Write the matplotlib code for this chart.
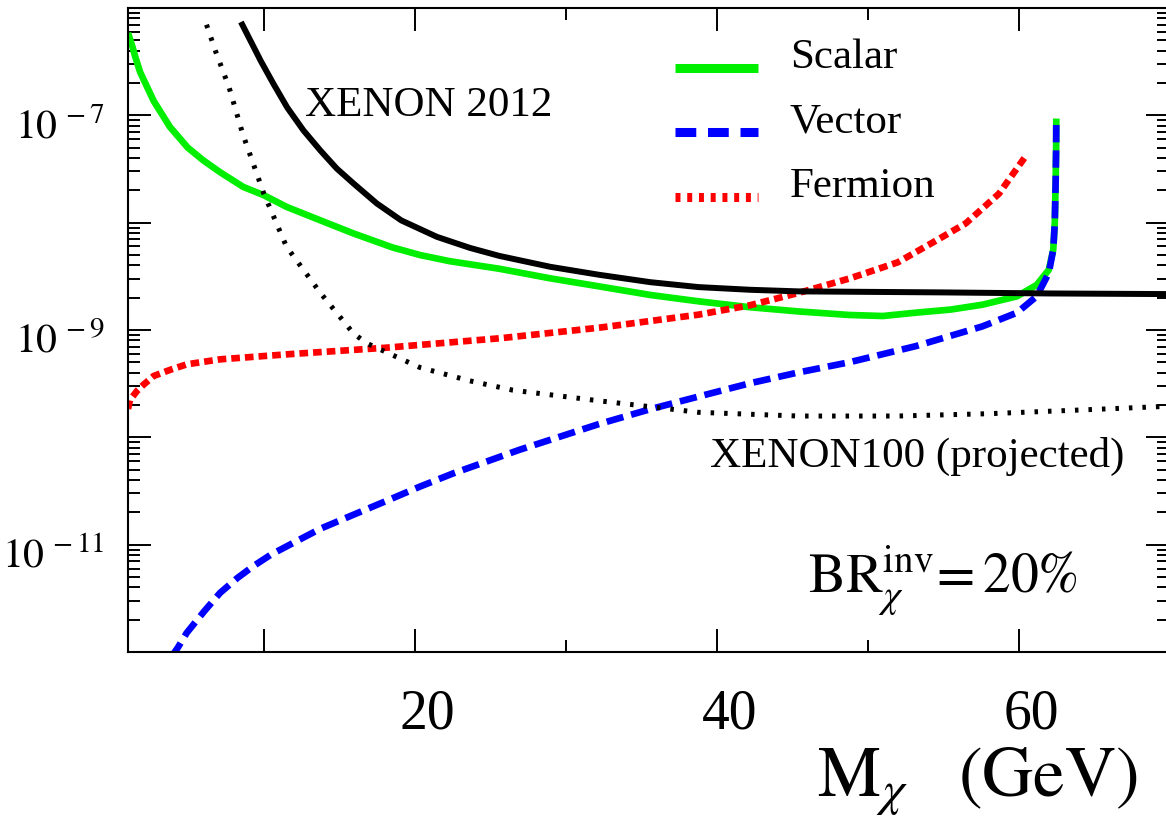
import matplotlib
matplotlib.use("Agg")
import matplotlib.pyplot as plt
import matplotlib.transforms as mtransforms
import numpy as np
from matplotlib.ticker import LogLocator, FuncFormatter, FixedLocator, NullFormatter

plt.rcParams['font.family'] = ['Liberation Serif', 'DejaVu Serif']
plt.rcParams['mathtext.fontset'] = 'stix'

# dark matter mass (GeV) and the limit curves
m_scalar = [1.0, 1.3, 1.5, 1.8, 2.7, 3.78, 4.95, 5.99, 7.1, 8.64, 10, 11.52, 13.75, 15.93,
            18.5, 20.35, 22.33, 25.6, 28.97, 32.2, 35.6, 38.8, 42.2, 45.4, 48.8, 51, 53.2,
            55.5, 57.6, 59.9, 61.2, 62.0, 62.3, 62.4, 62.46, 62.49, 62.5]
scalar = [5.85e-7, 4.32e-7, 3.43e-7, 2.53e-7, 1.36e-7, 7.78e-8, 5.01e-8, 3.80e-8, 2.95e-8,
          2.15e-8, 1.80e-8, 1.40e-8, 1.05e-8, 7.94e-9, 5.89e-9, 4.99e-9, 4.37e-9, 3.72e-9,
          3.03e-9, 2.55e-9, 2.12e-9, 1.85e-9, 1.63e-9, 1.49e-9, 1.38e-9, 1.35e-9, 1.45e-9,
          1.55e-9, 1.72e-9, 2.06e-9, 2.63e-9, 3.63e-9, 5.62e-9, 1.0e-8, 2.51e-8, 5.01e-8,
          9.33e-8]

m_vector = [3.85, 4.3, 4.89, 6.05, 7.1, 8.25, 9.3, 10.45, 11.95, 13.75, 15.93, 18.15, 20.35,
            22.55, 24.77, 26.95, 28.97, 32.2, 35.6, 38.8, 42.2, 45.4, 48.8, 53.2, 57.6, 59.9,
            61.2, 62.0, 62.3, 62.4, 62.46, 62.49, 62.5]
vector = [8.9e-13, 1.10e-12, 1.51e-12, 2.40e-12, 3.56e-12, 4.90e-12, 6.31e-12, 8.05e-12,
          1.04e-11, 1.41e-11, 1.90e-11, 2.57e-11, 3.48e-11, 4.62e-11, 5.96e-11, 7.67e-11,
          9.48e-11, 1.33e-10, 1.83e-10, 2.40e-10, 3.19e-10, 4.02e-10, 5.01e-10, 7.08e-10,
          1.08e-9, 1.45e-9, 2.06e-9, 3.39e-9, 5.62e-9, 1.0e-8, 2.51e-8, 5.01e-8, 9.33e-8]

m_fermion = [1.0, 1.13, 1.6, 2.01, 2.7, 3.78, 4.9, 7.1, 11.5, 18.1, 25.7, 32.2, 38.8, 42.2,
             45.4, 48.8, 52.0, 54.5, 56.5, 58.7, 60.5]
fermion = [1.84e-10, 2.23e-10, 2.71e-10, 3.08e-10, 3.73e-10, 4.25e-10, 4.79e-10, 5.33e-10,
           5.93e-10, 6.84e-10, 8.39e-10, 1.05e-9, 1.39e-9, 1.70e-9, 2.21e-9, 3.02e-9,
           4.27e-9, 6.76e-9, 9.84e-9, 1.86e-8, 4.22e-8]

m_x2012 = [8.48, 9.8, 10.63, 11.55, 12.62, 13.75, 14.83, 15.95, 17.48, 19.1, 21.46, 23.65,
           25.6, 28.97, 32.2, 35.6, 38.8, 42.2, 45.4, 55, 62, 70]
x2012 = [7.40e-7, 3.20e-7, 1.97e-7, 1.18e-7, 7.24e-8, 4.69e-8, 3.19e-8, 2.31e-8, 1.51e-8,
         1.05e-8, 7.38e-9, 5.82e-9, 4.90e-9, 3.88e-9, 3.27e-9, 2.79e-9, 2.51e-9, 2.37e-9,
         2.29e-9, 2.24e-9, 2.19e-9, 2.16e-9]

m_x100 = [6.2, 6.8, 7.7, 8.6, 10, 11.5, 13.75, 15.9, 16.75, 18.15, 20.35, 23.65, 26.5,
          32.2, 38.8, 45.4, 52, 58, 65, 70]
x100 = [6.98e-7, 3.95e-7, 1.81e-7, 6.70e-8, 1.86e-8, 5.97e-9, 2.21e-9, 9.42e-10, 7.60e-10,
        6.17e-10, 4.47e-10, 3.36e-10, 2.75e-10, 2.19e-10, 1.71e-10, 1.58e-10, 1.58e-10,
        1.66e-10, 1.82e-10, 1.95e-10]

x_major = [10, 20, 40, 60]
x_labels = ['', '20', '40', '60']
x_minor = [30, 50]
y_major = [1e-12, 1e-11, 1e-10, 1e-9, 1e-8, 1e-7, 1e-6]

fig = plt.figure(figsize=(11.66, 8.21), dpi=100)
ax = fig.add_axes([0.1098, 0.2058, 0.8932, 0.7845])

ax.plot(m_scalar, scalar, color='#00ee00', lw=4.8, solid_capstyle='butt')
ax.plot(m_vector, vector, color='#0000ff', lw=4.8, dash_capstyle='butt',
        linestyle=(0, (2.6, 1.2)))
ax.plot(m_fermion, fermion, color='#ff0000', lw=4.8, dash_capstyle='butt',
        linestyle=(0, (1.3, 0.75)))
ax.plot(m_x2012, x2012, color='black', lw=4.3, solid_capstyle='butt')
ax.plot(m_x100, x100, color='black', lw=3.6, dash_capstyle='butt',
        linestyle=(0, (0.7, 2.0)))

ax.set_yscale('log')
ax.set_xlim(1, 70)
ax.set_ylim(1e-12, 1e-6)

ax.xaxis.set_major_locator(FixedLocator(x_major))
ax.set_xticklabels(x_labels)
ax.xaxis.set_minor_locator(FixedLocator(x_minor))
ax.yaxis.set_major_locator(FixedLocator(y_major))
ax.yaxis.set_minor_locator(LogLocator(base=10, subs=np.arange(2, 10), numticks=20))
ax.yaxis.set_minor_formatter(NullFormatter())


def ylab(v, pos):
    e = int(round(np.log10(v)))
    return r'$10^{\,%d}$' % e if e % 2 else ''


ax.yaxis.set_major_formatter(FuncFormatter(ylab))

ax.tick_params(which='both', direction='in', top=True, right=True, width=1.4, color='black')
ax.tick_params(which='major', length=16.5)
ax.tick_params(which='minor', length=8.6)
ax.tick_params(axis='x', which='major', labelsize=40, pad=26)
ax.tick_params(axis='y', which='major', labelsize=30, pad=17)
for s in ax.spines.values():
    s.set_linewidth(1.5)

# tick labels sit a little right of / below their ticks
dx = mtransforms.ScaledTranslation(0.13, 0, fig.dpi_scale_trans)
for lab in ax.get_xticklabels():
    lab.set_transform(lab.get_transform() + dx)
dy = mtransforms.ScaledTranslation(0, -0.08, fig.dpi_scale_trans)
for lab in ax.get_yticklabels():
    lab.set_transform(lab.get_transform() + dy)

# legend drawn by hand
leg = [('Scalar', dict(color='#00ee00', lw=6.5, solid_capstyle='butt')),
       ('Vector', dict(color='#0000ff', lw=6.5, dash_capstyle='butt', linestyle=(0, (2.3, 1.3)))),
       ('Fermion', dict(color='#ff0000', lw=6.5, dash_capstyle='butt', linestyle=(0, (0.55, 0.75))))]
for i, (name, style) in enumerate(leg):
    yy = 0.907 - i * 0.1003
    ax.plot([0.525, 0.605], [yy, yy], transform=ax.transAxes, **style)
    ax.text(0.6356, yy, name, transform=ax.transAxes, fontsize=31, va='baseline', ha='left')

ax.text(0.1699, 0.8323, 'XENON 2012', transform=ax.transAxes, fontsize=31, va='baseline')
ax.text(0.5588, 0.2873, 'XENON100 (projected)', transform=ax.transAxes, fontsize=31,
        va='baseline')
ax.text(0.653, 0.0932, r'$\mathrm{BR}_{\chi}^{\mathrm{inv}}\!= 20\%$', transform=ax.transAxes,
        fontsize=40, va='baseline')

fig.text(1138 / 1166, 1 - 797 / 821, r'$\mathrm{M}_{\chi}\ \ \ \mathrm{(GeV)}$', fontsize=51,
         ha='right', va='baseline')

fig.savefig('out.png', dpi=100)
